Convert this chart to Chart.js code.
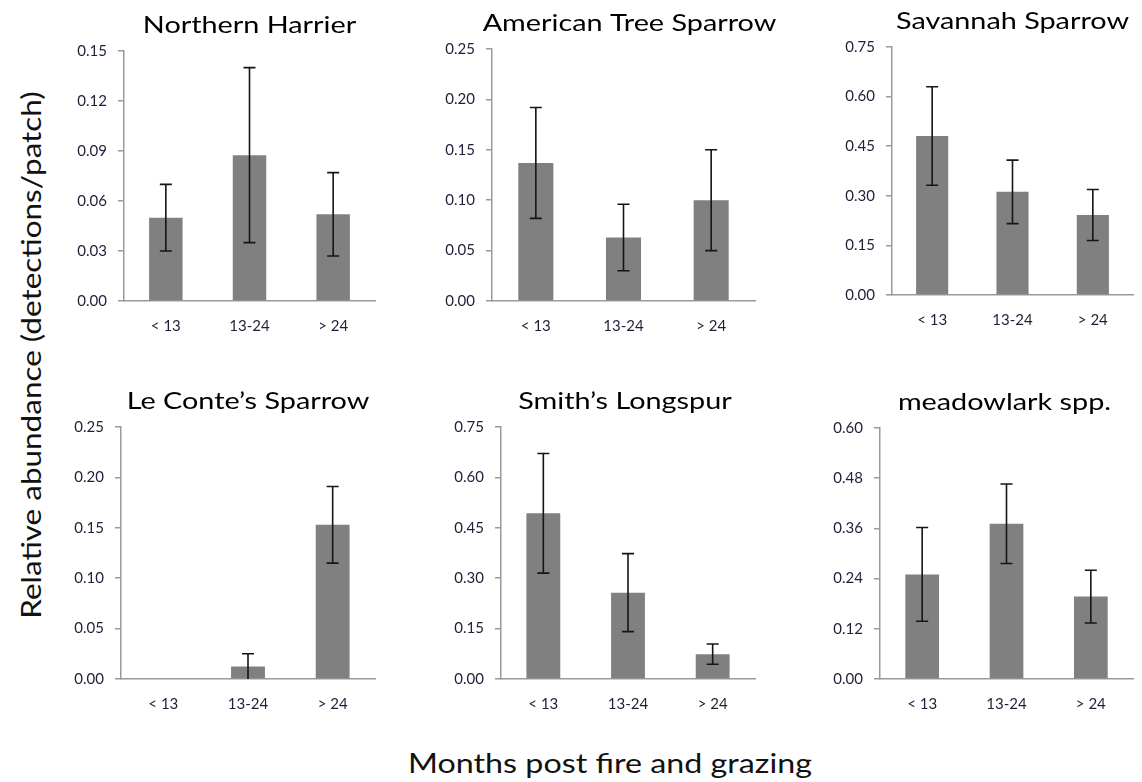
<!DOCTYPE html>
<html>
<head>
<meta charset="utf-8">
<title>Relative abundance by months post fire and grazing</title>
<script src="https://cdn.jsdelivr.net/npm/chart.js@4.4.0/dist/chart.umd.min.js"></script>
<style>
    body {
        margin: 0;
        width: 1142px;
        height: 782px;
        position: relative;
        overflow: hidden;
        background: #fff;
        font-family: Lato, sans-serif;
        color: #111;
    }
    canvas.panel { position: absolute; }
    #ylabel {
        position: absolute;
        left: 31px;
        top: 355px;
        transform: translate(-50%, -50%) rotate(-90deg) scaleX(1.21);
        white-space: nowrap;
        font-size: 26px;
    }
    #xlabel {
        position: absolute;
        left: 610px;
        top: 763px;
        transform: translate(-50%, -50%) scaleX(1.24);
        white-space: nowrap;
        font-size: 26px;
    }
</style>
</head>
<body>
<div id="ylabel">Relative abundance (detections/patch)</div>
<div id="xlabel">Months post fire and grazing</div>

<script>
// Data
var categories = ['< 13', '13-24', '> 24'];

var species = [
    'Northern Harrier',
    'American Tree Sparrow',
    'Savannah Sparrow',
    'Le Conte\u2019s Sparrow',
    'Smith\u2019s Longspur',
    'meadowlark spp.',
];

var northernHarrier = [0.050, 0.0875, 0.052];
var americanTreeSparrow = [0.137, 0.063, 0.100];
var savannahSparrow = [0.481, 0.312, 0.242];
var leContesSparrow = [0, 0.0125, 0.153];
var smithsLongspur = [0.493, 0.257, 0.074];
var meadowlark = [0.250, 0.371, 0.197];

// standard errors (symmetric error bars)
var northernHarrierSE = [0.020, 0.0525, 0.025];
var americanTreeSparrowSE = [0.055, 0.033, 0.050];
var savannahSparrowSE = [0.149, 0.096, 0.077];
var leContesSparrowSE = [0, 0.0125, 0.038];
var smithsLongspurSE = [0.178, 0.116, 0.030];
var meadowlarkSE = [0.112, 0.095, 0.063];

// y axis maximum and tick step of each panel
var yMax = [0.15, 0.25, 0.75, 0.25, 0.75, 0.60];
var yStep = [0.03, 0.05, 0.15, 0.05, 0.15, 0.12];

var means = [northernHarrier, americanTreeSparrow, savannahSparrow, leContesSparrow, smithsLongspur, meadowlark];
var errors = [northernHarrierSE, americanTreeSparrowSE, savannahSparrowSE, leContesSparrowSE, smithsLongspurSE, meadowlarkSE];

// plot area of each panel on the page: left, top, right, bottom
var panelBoxes = [
    [124, 51, 375, 301],
    [492, 49, 755, 301],
    [892, 47, 1133, 295],
    [121, 427, 375, 679],
    [501, 427, 755, 679],
    [880, 428, 1133, 679],
];

var Y_AXIS_W = 60;
var X_AXIS_H = 40;
var TOP_PAD = 45;
var RIGHT_PAD = 30;   // room for titles wider than the plot
var tickColor = '#1f1f3a';
var axisColor = '#9a9a9a';

// draws the SE whiskers on top of the bars
var errorBarPlugin = {
    id: 'errorBars',
    afterDatasetsDraw: function (chart) {
        var ctx = chart.ctx;
        var dataset = chart.data.datasets[0];
        var meta = chart.getDatasetMeta(0);
        var yScale = chart.scales.y;
        ctx.save();
        ctx.strokeStyle = '#151515';
        ctx.lineWidth = 1.6;
        meta.data.forEach(function (bar, i) {
            var v = dataset.data[i];
            var e = dataset.errors[i];
            if (!e) return;
            var low = Math.max(v - e, 0);
            var yTop = yScale.getPixelForValue(v + e);
            var yBottom = yScale.getPixelForValue(low);
            ctx.beginPath();
            ctx.moveTo(bar.x, yTop);
            ctx.lineTo(bar.x, yBottom);
            ctx.moveTo(bar.x - 6, yTop);
            ctx.lineTo(bar.x + 6, yTop);
            if (low > 0) {
                ctx.moveTo(bar.x - 6, yBottom);
                ctx.lineTo(bar.x + 6, yBottom);
            }
            ctx.stroke();
        });
        ctx.restore();
    }
};

// panel title centred over the plot area (a little widened like the original)
var panelTitlePlugin = {
    id: 'panelTitle',
    afterDraw: function (chart, args, opts) {
        var area = chart.chartArea;
        var ctx = chart.ctx;
        ctx.save();
        ctx.translate((area.left + area.right) / 2 + (opts.shift || 0), area.top - 26);
        ctx.scale(1.2, 1);
        ctx.font = '24px Lato';
        ctx.fillStyle = '#000';
        ctx.textAlign = 'center';
        ctx.textBaseline = 'middle';
        ctx.fillText(opts.text, 0, 0);
        ctx.restore();
    }
};

var titleShift = [0, 6, 0, 0, -3, -2];

function makePanel(index) {
    var box = panelBoxes[index];
    var canvas = document.createElement('canvas');
    canvas.className = 'panel';
    var w = box[2] - box[0] + Y_AXIS_W + RIGHT_PAD;
    var h = box[3] - box[1] + TOP_PAD + X_AXIS_H;
    canvas.width = w;
    canvas.height = h;
    canvas.style.width = w + 'px';
    canvas.style.height = h + 'px';
    canvas.style.left = (box[0] - Y_AXIS_W) + 'px';
    canvas.style.top = (box[1] - TOP_PAD) + 'px';
    document.body.appendChild(canvas);

    return new Chart(canvas.getContext('2d'), {
        type: 'bar',
        data: {
            labels: categories,
            datasets: [
                {
                    label: species[index],
                    data: means[index],
                    errors: errors[index],
                    backgroundColor: '#808080',
                    borderWidth: 0,
                    categoryPercentage: 1.0,
                    barPercentage: 0.4,
                },
            ],
        },
        options: {
            responsive: false,
            animation: false,
            events: [],
            layout: {
                padding: { top: TOP_PAD, right: RIGHT_PAD, left: 0, bottom: 0 }
            },
            plugins: {
                legend: { display: false },
                tooltip: { enabled: false },
                panelTitle: { text: species[index], shift: titleShift[index] },
            },
            scales: {
                x: {
                    grid: { display: false },
                    border: { color: axisColor, width: 1.5 },
                    ticks: {
                        color: tickColor,
                        padding: 8,
                        maxRotation: 0,
                        font: { family: 'Lato', size: 15 },
                    },
                    afterFit: function (scale) { scale.height = X_AXIS_H; },
                },
                y: {
                    min: 0,
                    max: yMax[index],
                    grid: {
                        drawOnChartArea: false,
                        tickLength: 6,
                        color: axisColor,
                        lineWidth: 1.5,
                    },
                    border: { color: axisColor, width: 1.5 },
                    ticks: {
                        stepSize: yStep[index],
                        padding: 11,
                        color: tickColor,
                        font: { family: 'Lato', size: 15 },
                        callback: function (value) { return value.toFixed(2); },
                    },
                    afterFit: function (scale) { scale.width = Y_AXIS_W; },
                },
            },
        },
        plugins: [errorBarPlugin, panelTitlePlugin],
    });
}

var charts = [];
species.forEach(function (name, index) {
    charts.push(makePanel(index));
});
</script>
</body>
</html>
